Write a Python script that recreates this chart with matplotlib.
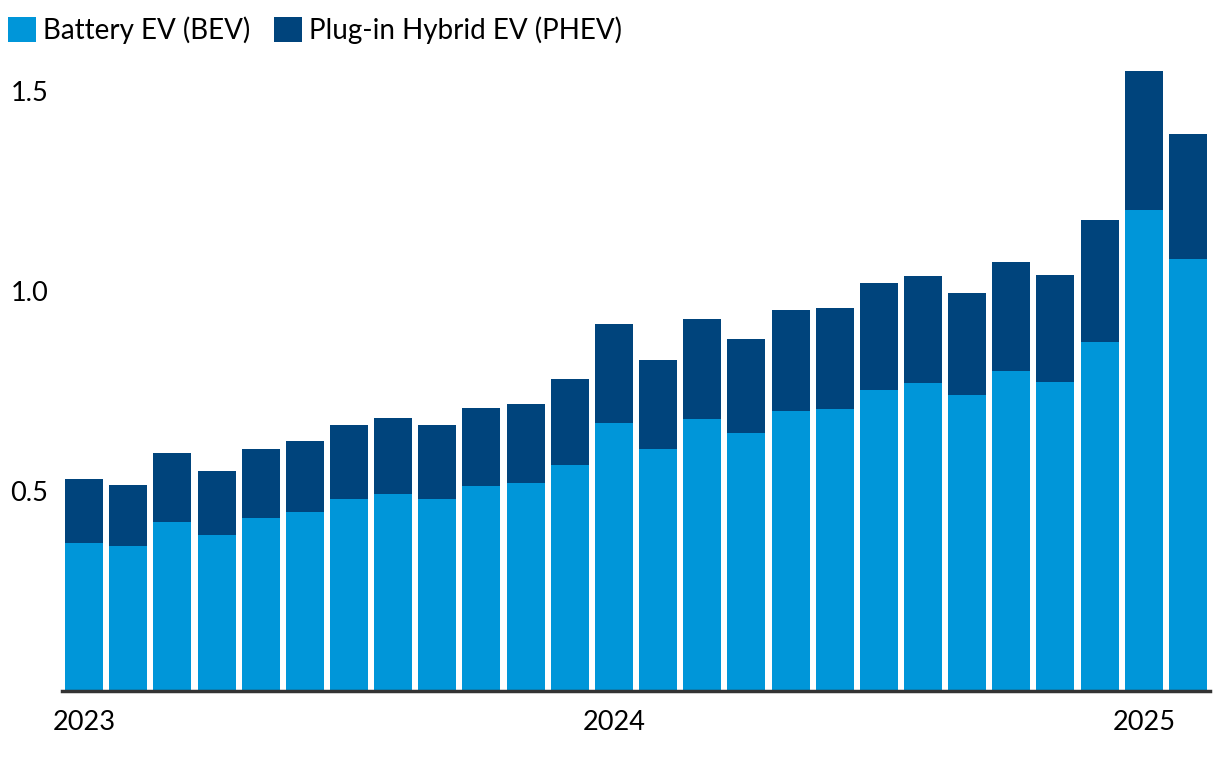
import matplotlib.pyplot as plt
import numpy as np

plt.rcParams['font.family'] = ['Lato', 'DejaVu Sans']

# monthly EV sales, Jan 2023 - Feb 2025 (millions)
months = list(range(26))
bev = [0.37, 0.3625, 0.4225, 0.39, 0.4325, 0.4475, 0.48, 0.4925, 0.48, 0.5125,
       0.52, 0.565, 0.67, 0.605, 0.68, 0.645, 0.70, 0.705, 0.7525, 0.77,
       0.74, 0.80, 0.7725, 0.8725, 1.2025, 1.08]
total = [0.53, 0.515, 0.595, 0.55, 0.605, 0.625, 0.665, 0.6825, 0.665, 0.7075,
         0.7175, 0.78, 0.9175, 0.8275, 0.93, 0.88, 0.9525, 0.9575, 1.02, 1.0375,
         0.995, 1.0725, 1.04, 1.1775, 1.55, 1.3925]
phev = [t - b for t, b in zip(total, bev)]
year_ticks = [0, 12, 24]
year_labels = ['2023', '2024', '2025']

bev_color = '#0096d9'
phev_color = '#00447c'

fig = plt.figure(figsize=(12.2, 7.58), dpi=100)
ax = fig.add_axes([0.0508, 0.0884, 0.941, 0.8443])

ax.bar(months, bev, width=0.86, color=bev_color, label='Battery EV (BEV)')
ax.bar(months, phev, width=0.86, bottom=bev, color=phev_color,
       label='Plug-in Hybrid EV (PHEV)')

ax.set_xlim(-0.5, 25.5)
ax.set_ylim(0, 1.6)
ax.set_yticks([0.5, 1.0, 1.5])
ax.set_yticklabels(['0.5', '1.0', '1.5'], ha='left')
ax.set_xticks(year_ticks)
ax.set_xticklabels(year_labels)
ax.tick_params(axis='y', length=0, labelsize=19.5, pad=37)
ax.tick_params(axis='x', length=0, labelsize=19.5, pad=14)

for side in ['top', 'right', 'left']:
    ax.spines[side].set_visible(False)
ax.spines['bottom'].set_color('#333333')
ax.spines['bottom'].set_linewidth(2.5)

fig.legend(loc='upper left', bbox_to_anchor=(0.0, 0.9895), ncol=2, frameon=False,
           fontsize=20, handlelength=1.0, handleheight=1.0, handletextpad=0.25,
           columnspacing=0.85, borderaxespad=0.0, borderpad=0.3)

fig.savefig('out.png', dpi=100)
